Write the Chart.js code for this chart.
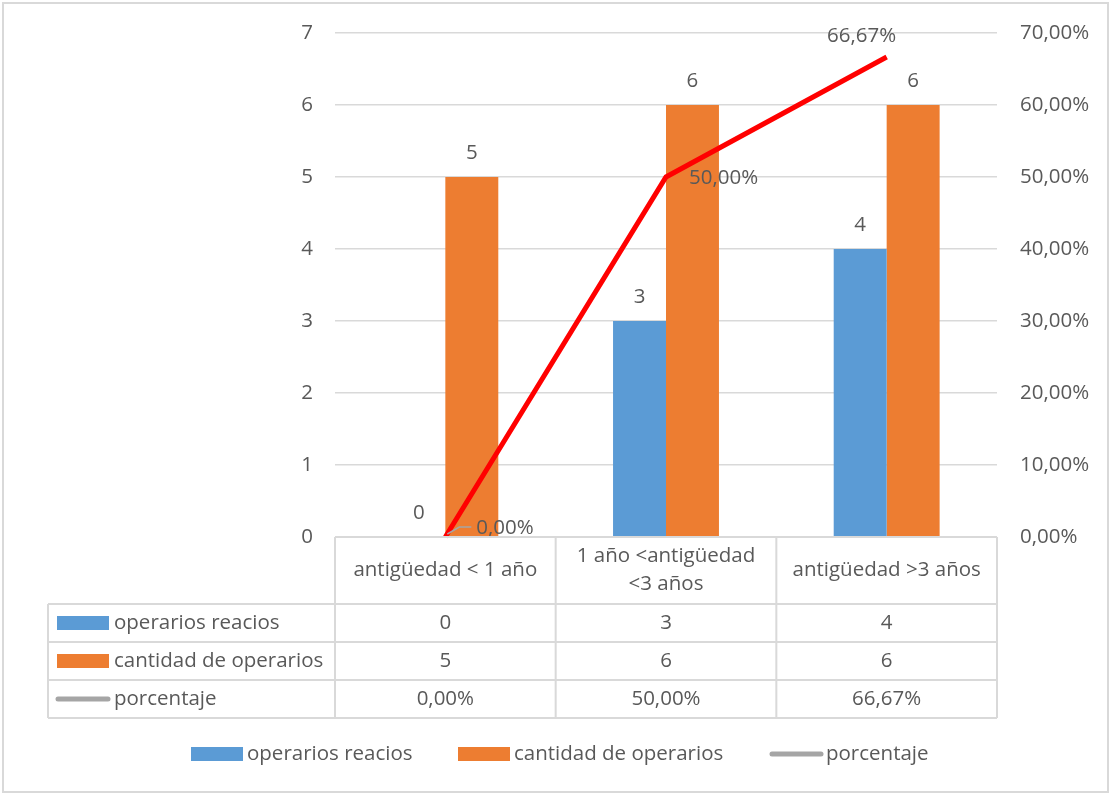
<!DOCTYPE html>
<html>
<head>
<meta charset="utf-8">
<script src="https://cdn.jsdelivr.net/npm/chart.js@4"></script>
<style>
  body { margin: 0; background: #fff; }
  canvas { display: block; }
</style>
</head>
<body>
<canvas id="comboChart" width="1114" height="795"></canvas>
<script>
const categorias = [["antigüedad < 1 año"], ["1 año <antigüedad", "<3 años"], ["antigüedad >3 años"]];
const operariosReacios = [0, 3, 4];
const cantidadOperarios = [5, 6, 6];
const porcentaje = [0, 0.5, 0.6667];
const serieNombres = ["operarios reacios", "cantidad de operarios", "porcentaje"];

const AZUL = "#5b9bd5";
const NARANJA = "#ed7d31";
const ROJO = "#ff0000";
const GRIS = "#a5a5a5";
const TEXTO = "#595959";
const LINEA = "#d9d9d9";
const TAM = 20.5;
const FUENTE = TAM + "px 'Open Sans', sans-serif";

const fmtPct = (v) => (v * 100).toFixed(2).replace(".", ",") + "%";

const tablaPlugin = {
  id: "tabla",
  afterDraw(chart) {
    const ctx = chart.ctx;
    const area = chart.chartArea;
    const x = chart.scales.x;
    const w = (area.right - area.left) / categorias.length;
    const izq = 48;
    const filas = [area.bottom, 604, 642, 680, 718];

    ctx.save();
    ctx.font = FUENTE;
    ctx.fillStyle = TEXTO;
    ctx.textBaseline = "middle";

    // etiquetas de las barras
    ctx.textAlign = "center";
    [operariosReacios, cantidadOperarios].forEach((serie, d) => {
      chart.getDatasetMeta(d).data.forEach((bar, i) => {
        ctx.fillText(String(serie[i]), bar.x, bar.y - 24);
      });
    });

    // etiquetas de la linea
    const pts = chart.getDatasetMeta(2).data;
    ctx.strokeStyle = GRIS;
    ctx.lineWidth = 1.5;
    ctx.beginPath();
    ctx.moveTo(pts[0].x + 2, pts[0].y - 3);
    ctx.lineTo(pts[0].x + 14, pts[0].y - 10);
    ctx.lineTo(pts[0].x + 26, pts[0].y - 10);
    ctx.stroke();
    ctx.textAlign = "left";
    ctx.fillText(fmtPct(porcentaje[0]), pts[0].x + 31, pts[0].y - 9);
    ctx.fillText(fmtPct(porcentaje[1]), pts[1].x + 23, pts[1].y + 1);
    ctx.textAlign = "center";
    ctx.fillText(fmtPct(porcentaje[2]), pts[2].x - 25, pts[2].y - 21);

    // rejilla de la tabla
    ctx.strokeStyle = LINEA;
    ctx.lineWidth = 2;
    ctx.beginPath();
    ctx.moveTo(area.left, filas[0]);
    ctx.lineTo(area.right, filas[0]);
    for (let r = 1; r < filas.length; r++) {
      ctx.moveTo(izq, filas[r]);
      ctx.lineTo(area.right, filas[r]);
    }
    for (let c = 0; c <= categorias.length; c++) {
      ctx.moveTo(area.left + c * w, filas[0]);
      ctx.lineTo(area.left + c * w, filas[4]);
    }
    ctx.moveTo(izq, filas[1]);
    ctx.lineTo(izq, filas[4]);
    ctx.stroke();

    // categorias
    ctx.textAlign = "center";
    categorias.forEach((lineas, i) => {
      const cx = x.getPixelForValue(i);
      const cy = (filas[0] + filas[1]) / 2;
      lineas.forEach((t, k) => {
        ctx.fillText(t, cx, cy + (k - (lineas.length - 1) / 2) * 28);
      });
    });

    // filas de datos
    const series = [operariosReacios, cantidadOperarios, porcentaje.map(fmtPct)];
    series.forEach((serie, r) => {
      const cy = (filas[r + 1] + filas[r + 2]) / 2;
      if (r < 2) {
        ctx.fillStyle = r === 0 ? AZUL : NARANJA;
        ctx.fillRect(57, cy - 7, 52, 14);
      } else {
        ctx.strokeStyle = GRIS;
        ctx.lineWidth = 5;
        ctx.lineCap = "round";
        ctx.beginPath();
        ctx.moveTo(58, cy);
        ctx.lineTo(108, cy);
        ctx.stroke();
      }
      ctx.fillStyle = TEXTO;
      ctx.textAlign = "left";
      ctx.fillText(serieNombres[r], 114, cy);
      ctx.textAlign = "center";
      serie.forEach((v, i) => ctx.fillText(String(v), x.getPixelForValue(i), cy));
    });

    // leyenda inferior
    const ly = 754;
    const claves = [[191, AZUL], [458, NARANJA], [770, GRIS]];
    claves.forEach(([lx, col], k) => {
      if (k < 2) {
        ctx.fillStyle = col;
        ctx.fillRect(lx, ly - 7, 52, 14);
      } else {
        ctx.strokeStyle = col;
        ctx.lineWidth = 5;
        ctx.lineCap = "round";
        ctx.beginPath();
        ctx.moveTo(lx + 2, ly);
        ctx.lineTo(lx + 51, ly);
        ctx.stroke();
      }
      ctx.fillStyle = TEXTO;
      ctx.textAlign = "left";
      ctx.fillText(serieNombres[k], lx + 56, ly);
    });

    // borde exterior
    ctx.strokeStyle = LINEA;
    ctx.lineWidth = 2;
    ctx.strokeRect(3, 3, 1105, 789);
    ctx.restore();
  },
};

new Chart(document.getElementById("comboChart"), {
  type: "bar",
  data: {
    labels: categorias,
    datasets: [
      {
        label: serieNombres[0],
        data: operariosReacios,
        backgroundColor: AZUL,
        yAxisID: "y",
        order: 2,
      },
      {
        label: serieNombres[1],
        data: cantidadOperarios,
        backgroundColor: NARANJA,
        yAxisID: "y",
        order: 2,
      },
      {
        type: "line",
        label: serieNombres[2],
        data: porcentaje,
        borderColor: ROJO,
        borderWidth: 5,
        pointRadius: 0,
        tension: 0,
        fill: false,
        yAxisID: "y1",
        order: 1,
        clip: 8,
      },
    ],
  },
  options: {
    responsive: false,
    animation: false,
    layout: { padding: { top: 33, left: 0, right: 0, bottom: 0 } },
    categoryPercentage: 0.48,
    barPercentage: 1,
    plugins: {
      legend: { display: false },
      tooltip: { enabled: false },
    },
    scales: {
      x: {
        grid: { display: false },
        border: { display: false },
        ticks: { display: false },
        afterFit: (s) => { s.height = 258; },
      },
      y: {
        position: "left",
        min: 0,
        max: 7,
        ticks: { stepSize: 1, padding: 22, color: TEXTO, font: { family: "'Open Sans', sans-serif", size: TAM } },
        grid: { color: LINEA, lineWidth: 1.5, drawTicks: false },
        border: { display: false },
        afterFit: (s) => { s.width = 335; s.paddingTop = 0; s.paddingBottom = 0; },
      },
      y1: {
        position: "right",
        min: 0,
        max: 0.7,
        ticks: {
          stepSize: 0.1,
          padding: 23,
          color: TEXTO,
          font: { family: "'Open Sans', sans-serif", size: TAM },
          callback: (v) => fmtPct(v),
        },
        grid: { display: false, drawTicks: false },
        border: { display: false },
        afterFit: (s) => { s.width = 117; s.paddingTop = 0; s.paddingBottom = 0; },
      },
    },
  },
  plugins: [tablaPlugin],
});
</script>
</body>
</html>
